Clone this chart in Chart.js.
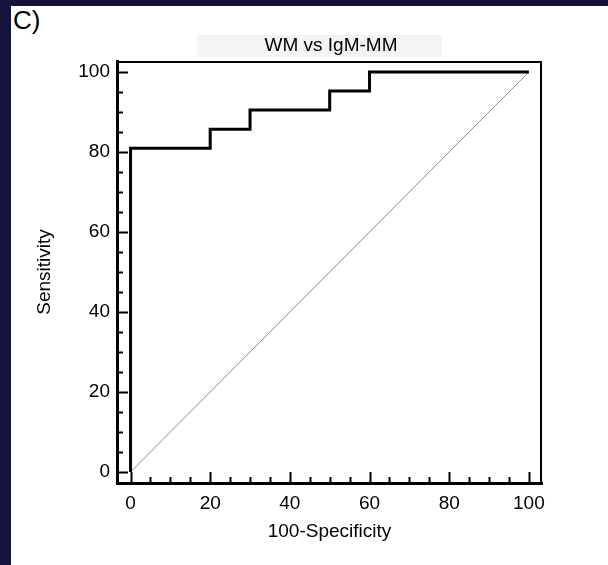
<!DOCTYPE html>
<html>
<head>
<meta charset="utf-8">
<title>WM vs IgM-MM</title>
<script src="https://cdn.jsdelivr.net/npm/chart.js@4"></script>
<style>
  body { margin: 0; background: #15133b; width: 608px; height: 565px; overflow: hidden; }
  #panel { position: absolute; left: 11px; top: 6px; right: 0; bottom: 0; background: #fff; }
  #tag { position: absolute; left: 13px; top: 5px; font: 26px "Liberation Sans", Arial, sans-serif; color: #000; }
  #roc { position: absolute; left: 0; top: 0; }
</style>
</head>
<body>
<div id="panel"></div>
<div id="tag">C)</div>
<canvas id="roc" width="608" height="565"></canvas>
<script>
// ROC curve
const fpr = [0, 0, 20, 30, 50, 60, 100];
const tpr = [0, 80.95, 85.71, 90.48, 95.24, 100, 100];
const refX = [0, 100];
const refY = [0, 100];
const tickValues = [0, 20, 40, 60, 80, 100];
const minorTicks = [0, 5, 10, 15, 20, 25, 30, 35, 40, 45, 50, 55, 60, 65, 70, 75, 80, 85, 90, 95, 100];
const chartTitle = "WM vs IgM-MM";

const fontFam = '"Liberation Sans", Arial, sans-serif';

// grey strip behind the title, title drawn on top of it
const titleBox = {
    id: "titleBox",
    beforeDraw(chart) {
        const ctx = chart.ctx;
        ctx.save();
        ctx.fillStyle = "#f4f4f4";
        ctx.fillRect(197, 35, 245, 22);
        ctx.fillStyle = "#000";
        ctx.font = "19px " + fontFam;
        ctx.textAlign = "center";
        ctx.textBaseline = "middle";
        ctx.fillText(chartTitle, 331, 46);
        ctx.restore();
    }
};

// box frame + ticks pointing inward
const frame = {
    id: "frame",
    afterDatasetsDraw(chart) {
        const ctx = chart.ctx;
        const a = chart.chartArea;
        const xs = chart.scales.x, ys = chart.scales.y;
        ctx.save();
        ctx.strokeStyle = "#000";
        ctx.lineWidth = 2;
        ctx.beginPath();
        ctx.moveTo(a.left, a.top + 1);
        ctx.lineTo(a.right, a.top + 1);
        ctx.moveTo(a.right - 1, a.top);
        ctx.lineTo(a.right - 1, a.bottom);
        ctx.stroke();
        minorTicks.forEach(v => {
            const len = tickValues.includes(v) ? 11 : 6;
            const px = Math.round(xs.getPixelForValue(v)) + 0.5;
            const py = Math.round(ys.getPixelForValue(v)) + 0.5;
            ctx.beginPath();
            ctx.moveTo(px, a.bottom);
            ctx.lineTo(px, a.bottom - len);
            ctx.moveTo(a.left, py);
            ctx.lineTo(a.left + len, py);
            ctx.stroke();
        });
        ctx.restore();
    }
};

const ctx = document.getElementById("roc").getContext("2d");

const rocChart = new Chart(ctx, {
    type: "line",
    data: {
        datasets: [
            {
                label: "ROC",
                data: fpr.map((x, i) => ({ x: x, y: tpr[i] })),
                stepped: "before",
                borderColor: "#000",
                borderWidth: 3,
                pointRadius: 0,
                fill: false,
                clip: false,
                order: 0
            },
            {
                label: "Reference",
                data: refX.map((x, i) => ({ x: x, y: refY[i] })),
                borderColor: "#8a8a8a",
                borderWidth: 1,
                pointRadius: 0,
                fill: false,
                order: 1
            }
        ]
    },
    options: {
        responsive: false,
        animation: false,
        layout: { padding: { top: 61, right: 66, bottom: 0, left: 0 } },
        plugins: {
            legend: { display: false },
            tooltip: { enabled: false },
            title: { display: false }
        },
        scales: {
            x: {
                type: "linear",
                min: -3.4,
                max: 103.3,
                afterBuildTicks: s => { s.ticks = tickValues.map(v => ({ value: v })); },
                afterFit: s => { s.height = 82; },
                grid: { drawOnChartArea: false, drawTicks: false },
                border: { color: "#000", width: 3 },
                ticks: {
                    color: "#000",
                    padding: 9.5,
                    maxRotation: 0,
                    font: { family: fontFam, size: 19 }
                },
                title: {
                    display: true,
                    text: "100-Specificity",
                    color: "#000",
                    font: { family: fontFam, size: 19 },
                    padding: { top: 0, bottom: 22 }
                }
            },
            y: {
                type: "linear",
                min: -2.75,
                max: 102.75,
                afterBuildTicks: s => { s.ticks = tickValues.map(v => ({ value: v })); },
                afterFit: s => { s.width = 117; },
                grid: { drawOnChartArea: false, drawTicks: false },
                border: { color: "#000", width: 3 },
                ticks: {
                    color: "#000",
                    padding: 7,
                    font: { family: fontFam, size: 19 }
                },
                title: {
                    display: true,
                    text: "Sensitivity",
                    color: "#000",
                    font: { family: fontFam, size: 19 },
                    padding: { top: 33.6, bottom: 0 }
                }
            }
        }
    },
    plugins: [titleBox, frame]
});
</script>
</body>
</html>
